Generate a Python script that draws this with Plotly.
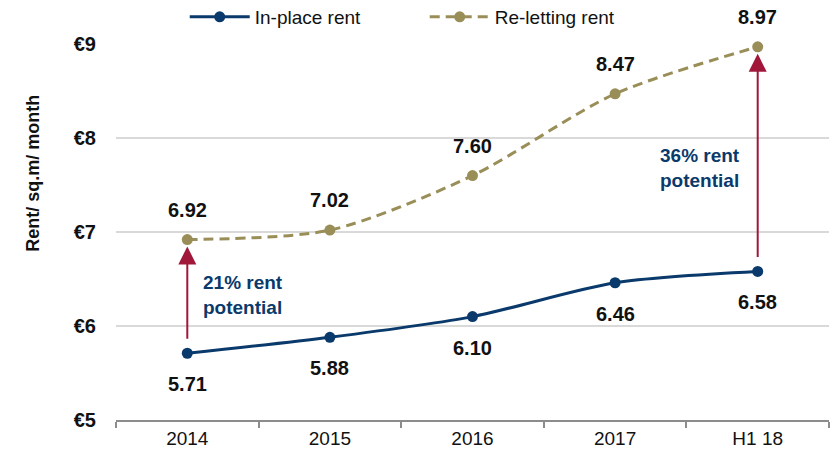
import plotly.graph_objects as go

categories = ["2014", "2015", "2016", "2017", "H1 18"]
in_place = [5.71, 5.88, 6.10, 6.46, 6.58]
re_letting = [6.92, 7.02, 7.60, 8.47, 8.97]
y_ticks = [5, 6, 7, 8, 9]
y_tick_labels = ["€5", "€6", "€7", "€8", "€9"]

NAVY = "#0A3A6B"
GOLD = "#9A8E58"
RED = "#A0173A"
FONT = "Liberation Sans, Arial, sans-serif"

fig = go.Figure()
fig.add_trace(go.Scatter(
    x=categories, y=in_place, name="In-place rent", mode="lines+markers",
    line=dict(color=NAVY, width=3, shape="spline", smoothing=0.8),
    marker=dict(color=NAVY, size=11),
))
fig.add_trace(go.Scatter(
    x=categories, y=re_letting, name="Re-letting rent", mode="lines+markers",
    line=dict(color=GOLD, width=3, dash="10px,6px", shape="spline", smoothing=0.8),
    marker=dict(color=GOLD, size=11),
))

annotations = []
for i, v in enumerate(in_place):
    annotations.append(dict(x=i, y=v, xref="x", yref="y", text=f"<b>{v:.2f}</b>",
                            showarrow=False, yshift=-31,
                            font=dict(size=20, color="#111", family=FONT)))
for i, v in enumerate(re_letting):
    annotations.append(dict(x=i, y=v, xref="x", yref="y", text=f"<b>{v:.2f}</b>",
                            showarrow=False, yshift=30,
                            font=dict(size=20, color="#111", family=FONT)))

# potential arrows (category index positions)
for idx in (0, 4):
    annotations.append(dict(x=idx, y=re_letting[idx], ax=idx, ay=in_place[idx],
                            xref="x", yref="y", axref="x", ayref="y",
                            text="", showarrow=True, arrowhead=2, arrowsize=1.8,
                            arrowwidth=2, arrowcolor=RED, standoff=7, startstandoff=13))

annotations.append(dict(x=0, y=6.33, xref="x", yref="y", text="<b>21% rent<br>potential</b>",
                        showarrow=False, xanchor="left", align="left", xshift=14,
                        font=dict(size=19, color=NAVY, family=FONT)))
annotations.append(dict(x=4, y=7.68, xref="x", yref="y", text="<b>36% rent<br>potential</b>",
                        showarrow=False, xanchor="right", align="left", xshift=-16,
                        font=dict(size=19, color=NAVY, family=FONT)))

annotations.append(dict(x=0, y=0.655, xref="paper", yref="paper", xshift=-83,
                        xanchor="center", yanchor="middle",
                        text="<b>Rent/ sq.m/ month</b>", textangle=-90, showarrow=False,
                        font=dict(size=18, color="#111", family=FONT)))

fig.update_layout(
    width=835, height=458,
    margin=dict(l=116, r=6, t=44, b=38),
    paper_bgcolor="white", plot_bgcolor="white",
    font=dict(family=FONT, color="#111"),
    showlegend=True,
    legend=dict(orientation="h", x=0.433, xanchor="center", yref="container",
                y=0.963, yanchor="middle", font=dict(size=19, color="#111", family=FONT),
                itemwidth=60, entrywidth=165, tracegroupgap=0),
    annotations=annotations,
    xaxis=dict(type="category", range=[-0.5, 4.5], showgrid=False, showline=True,
               linecolor="#8C8C8C", linewidth=1.5, ticks="outside",
               tickson="boundaries", ticklen=6, tickcolor="#8C8C8C", tickwidth=1.5,
               automargin=False,
               tickfont=dict(size=19, color="#111", family=FONT)),
    yaxis=dict(range=[5, 9], tickvals=y_ticks, ticktext=y_tick_labels,
               showgrid=True, gridcolor="#D9D9D9", gridwidth=1.5, zeroline=False,
               showline=False, ticks="", ticklabelstandoff=19, automargin=False,
               tickfont=dict(size=20, color="#111", family=FONT, weight="bold")),
)
fig.update_traces(cliponaxis=False)
fig.write_html("out.html", config={"displayModeBar": False},
               post_script="document.body.style.margin='0';document.body.style.padding='0';")
